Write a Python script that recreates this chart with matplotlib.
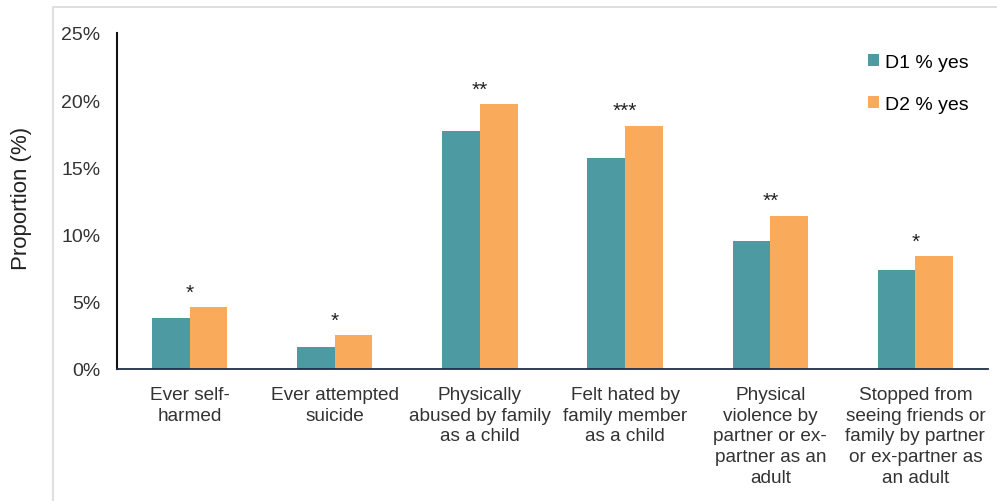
import matplotlib.pyplot as plt
import numpy as np
from matplotlib.patches import Rectangle

plt.rcParams['font.family'] = ['Liberation Sans', 'DejaVu Sans']

categories = [
    "Ever self-\nharmed",
    "Ever attempted\nsuicide",
    "Physically\nabused by family\nas a child",
    "Felt hated by\nfamily member\nas a child",
    "Physical\nviolence by\npartner or ex-\npartner as an\nadult",
    "Stopped from\nseeing friends or\nfamily by partner\nor ex-partner as\nan adult",
]
d1_yes = [3.8, 1.6, 17.7, 15.7, 9.5, 7.4]
d2_yes = [4.6, 2.5, 19.7, 18.1, 11.4, 8.4]
stars = ["*", "*", "**", "***", "**", "*"]

fig = plt.figure(figsize=(9.97, 5.02), dpi=100)
# light grey frame around the chart area
fig.patches.append(Rectangle((53 / 997, -0.01), 1.0, 1 - 8 / 502 + 0.01,
                             transform=fig.transFigure, fill=False,
                             edgecolor="#d9d9d9", linewidth=1.2))
ax = fig.add_axes([117 / 997, 1 - 370 / 502, (988 - 117) / 997, (370 - 34) / 502])

x = np.arange(len(categories))
w = 0.26
ax.bar(x - w / 2, d1_yes, w, color="#4e9aa2", label="D1 % yes")
ax.bar(x + w / 2, d2_yes, w, color="#f9aa5a", label="D2 % yes")

for xi, top, s in zip(x, d2_yes, stars):
    ax.annotate(s, (xi, top), xytext=(0, 4), textcoords="offset points",
                ha="center", va="bottom", fontsize=15, color="#222222")

ax.set_xlim(-0.5, len(categories) - 0.5)
ax.set_ylim(0, 25)
ax.set_yticks([0, 5, 10, 15, 20, 25])
ax.set_yticklabels([f"{v}%" for v in [0, 5, 10, 15, 20, 25]])
ax.set_xticks(x)
ax.set_xticklabels(categories, fontsize=13.7, color="#333333", va="top",
                   linespacing=1.3)
ax.tick_params(axis="y", length=0, pad=12, labelsize=14, labelcolor="#333333")
ax.tick_params(axis="x", length=0, pad=12)

for side in ["top", "right"]:
    ax.spines[side].set_visible(False)
ax.spines["left"].set_color("#111111")
ax.spines["left"].set_linewidth(1.5)
ax.spines["bottom"].set_color("#1f2d4a")
ax.spines["bottom"].set_linewidth(1.3)

fig.text(22 / 997, 1 - 198 / 502, "Proportion (%)", rotation=90,
         ha="center", va="center", fontsize=16, color="#222222")

ax.legend(loc="upper left", bbox_to_anchor=(0.842, 0.99), frameon=False,
          fontsize=14, handlelength=0.55, handleheight=0.55,
          handletextpad=0.35, labelspacing=1.3)

fig.savefig("out.png", dpi=100)
